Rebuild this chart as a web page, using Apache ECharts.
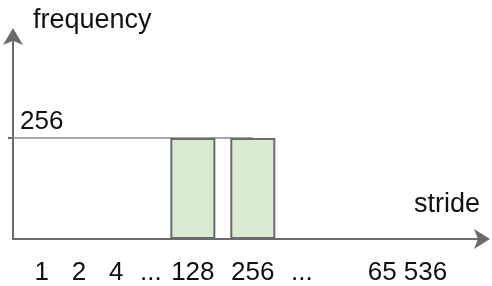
<!DOCTYPE html>
<html>
<head>
<meta charset="utf-8">
<script src="https://cdn.jsdelivr.net/npm/echarts@6/dist/echarts.min.js"></script>
<style>
  html, body { margin: 0; background: #fff; }
  #chart { width: 492px; height: 286px; }
</style>
</head>
<body>
<div id="chart"></div>
<script>
const strideLabels = ['1', '2', '4', '...', '128', '256', '...', '65 536'];
// slot of each label on the schematic (broken) stride axis
const strideSlots = [2.4, 5.5, 8.6, 11.5, 15, 20, 24.1, 32.9];
const barStrides = ['128', '256'];
const barFrequency = [256, 256];
const levelTicks = [256];

const slotOf = (s) => strideSlots[strideLabels.indexOf(s)];

const textColor = '#111';
const axisColor = '#6b6b6b';
const font = 'Liberation Sans, Arial, sans-serif';

const chart = echarts.init(document.getElementById('chart'));

chart.setOption({
  animation: false,
  grid: { left: 13, right: 9, top: 37, bottom: 46 },
  xAxis: {
    type: 'value',
    min: 0,
    max: 39.2,
    name: 'stride',
    nameLocation: 'end',
    nameGap: -3,
    nameTextStyle: {
      color: textColor,
      fontFamily: font,
      fontSize: 27,
      align: 'right',
      verticalAlign: 'bottom',
      padding: [0, 0, 21, 0],
    },
    axisLine: {
      show: true,
      symbol: ['none', 'arrow'],
      symbolSize: [15, 16],
      symbolOffset: [0, 7],
      lineStyle: { color: axisColor, width: 2 },
    },
    axisTick: { show: false },
    splitLine: { show: false },
    axisLabel: {
      customValues: strideSlots,
      margin: 21,
      color: textColor,
      fontFamily: font,
      fontSize: 26,
      formatter: (v) => {
        let best = 0;
        strideSlots.forEach((s, i) => {
          if (Math.abs(s - v) < Math.abs(strideSlots[best] - v)) best = i;
        });
        return strideLabels[best];
      },
    },
  },
  yAxis: {
    type: 'value',
    min: 0,
    max: 512,
    name: 'frequency',
    nameLocation: 'end',
    nameGap: 3,
    nameTextStyle: {
      color: textColor,
      fontFamily: font,
      fontSize: 27,
      align: 'left',
      verticalAlign: 'bottom',
      padding: [0, 0, 0, 20],
    },
    axisLine: {
      show: true,
      symbol: ['none', 'arrow'],
      symbolSize: [15, 17],
      symbolOffset: [0, 9],
      lineStyle: { color: axisColor, width: 2 },
    },
    axisTick: {
      show: true,
      customValues: levelTicks,
      length: 5,
      lineStyle: { color: axisColor, width: 2 },
    },
    splitLine: { show: false },
    axisLabel: {
      customValues: levelTicks,
      inside: true,
      margin: 7,
      color: textColor,
      fontFamily: font,
      fontSize: 26,
      align: 'left',
      verticalAlign: 'bottom',
      padding: [0, 0, 3, 0],
    },
  },
  series: [
    {
      type: 'line',
      z: 1,
      symbol: 'none',
      lineStyle: { color: '#888', width: 1.5 },
      data: [[0, levelTicks[0]], [slotOf('256'), levelTicks[0]]],
    },
    {
      type: 'bar',
      z: 2,
      barWidth: 45,
      itemStyle: { color: '#d9ead3', borderColor: axisColor, borderWidth: 2 },
      data: barStrides.map((s, i) => [slotOf(s), barFrequency[i]]),
    },
  ],
});
</script>
</body>
</html>
